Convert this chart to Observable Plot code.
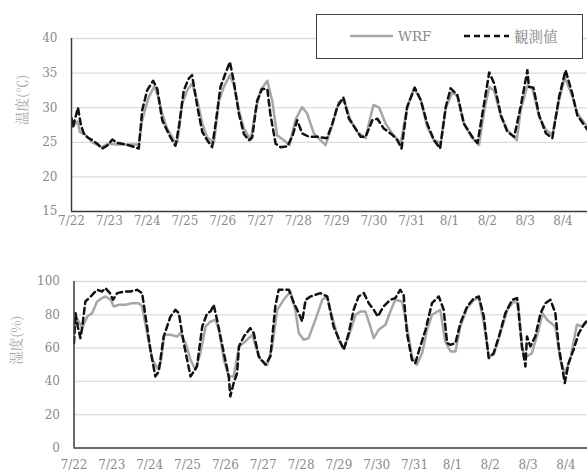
<!DOCTYPE html>
<html><head><meta charset="utf-8">
<script src="https://cdn.jsdelivr.net/npm/d3@7"></script>
<script src="https://cdn.jsdelivr.net/npm/@observablehq/plot@0.6"></script>
<style>
body{margin:0;background:#fff;}
#wrap{position:relative;width:587px;height:473px;overflow:hidden;background:#fff;}
#top{position:absolute;left:0;top:0;}
#bot{position:absolute;left:0;top:240px;}
#legend{position:absolute;left:316px;top:14px;width:265px;height:43px;border:1px solid #404040;background:#fff;}
#wrap svg text{font-family:'DejaVu Serif', serif !important;}
#wrap svg text.cjk, #wrap svg .cjk text{font-family:'Noto Serif CJK JP', serif !important;}
</style></head><body>
<div id="wrap"><div id="top"></div><div id="bot"></div><div id="legend"></div></div>
<script>
// date labels (one per day starting 7/22 00:00)
const dateLabels = ["7/22","7/23","7/24","7/25","7/26","7/27","7/28","7/29","7/30","7/31","8/1","8/2","8/3","8/4"];
const tempTicks = [15, 20, 25, 30, 35, 40];
const humTicks = [0, 20, 40, 60, 80, 100];
const seriesNames = ["WRF", "観測値"];

// [day offset, value]
const obsTemp = [[0.00,28.5],[0.04,27.2],[0.09,28.3],[0.17,30.0],[0.25,27.5],[0.33,26.2],[0.43,25.7],[0.55,25.3],[0.68,24.8],[0.81,24.1],[0.94,24.5],[1.08,25.4],[1.21,24.9],[1.34,24.8],[1.56,24.5],[1.78,24.1],[1.87,29.6],[2.00,32.5],[2.16,33.9],[2.27,32.7],[2.40,28.2],[2.53,26.7],[2.62,25.7],[2.75,24.5],[2.84,27.2],[2.97,32.5],[3.10,34.2],[3.19,34.7],[3.33,30.1],[3.46,26.5],[3.59,25.3],[3.72,24.3],[3.81,27.6],[3.94,33.0],[4.07,34.9],[4.19,36.6],[4.29,33.9],[4.43,29.1],[4.56,26.2],[4.69,25.3],[4.78,25.7],[4.91,31.0],[5.04,32.7],[5.18,32.7],[5.26,29.1],[5.40,24.8],[5.53,24.3],[5.71,24.4],[5.85,26.0],[5.97,28.2],[6.10,26.3],[6.28,25.8],[6.50,25.8],[6.76,25.6],[6.90,27.7],[7.03,30.1],[7.19,31.5],[7.34,28.4],[7.51,27.0],[7.65,25.8],[7.78,25.8],[7.96,28.2],[8.09,28.4],[8.26,27.0],[8.48,26.1],[8.62,25.3],[8.73,24.1],[8.88,30.1],[9.08,32.9],[9.24,31.1],[9.41,27.7],[9.59,25.3],[9.75,24.1],[9.90,30.1],[10.03,32.8],[10.21,31.8],[10.38,27.7],[10.60,25.8],[10.74,24.9],[10.90,30.1],[11.05,35.1],[11.18,33.5],[11.36,28.9],[11.53,26.5],[11.71,25.8],[11.88,30.1],[12.06,35.4],[12.10,33.0],[12.22,32.9],[12.37,28.9],[12.55,26.3],[12.72,25.6],[12.90,31.6],[13.07,35.4],[13.25,32.0],[13.38,28.9],[13.65,26.8]];

const wrfTemp = [[0.00,27.2],[0.07,27.5],[0.17,28.0],[0.22,26.5],[0.35,26.2],[0.55,25.0],[0.80,24.3],[0.97,24.8],[1.15,24.7],[1.40,24.7],[1.78,24.7],[1.87,28.2],[2.04,31.5],[2.19,33.1],[2.30,31.5],[2.40,29.1],[2.53,27.0],[2.71,25.3],[2.80,25.0],[2.93,30.6],[3.06,32.5],[3.19,33.5],[3.33,31.0],[3.46,27.7],[3.59,25.7],[3.77,25.0],[3.90,31.0],[4.03,33.0],[4.19,34.7],[4.29,33.4],[4.43,29.6],[4.56,27.0],[4.74,25.3],[4.87,29.6],[5.00,32.5],[5.18,33.9],[5.31,31.0],[5.44,26.0],[5.62,25.3],[5.77,24.6],[5.92,28.2],[6.10,30.1],[6.23,29.2],[6.41,26.3],[6.59,25.3],[6.72,24.6],[6.90,27.5],[7.07,30.8],[7.21,31.1],[7.38,28.2],[7.56,26.5],[7.78,25.6],[7.92,28.9],[7.99,30.4],[8.14,30.0],[8.31,27.7],[8.48,26.3],[8.71,24.9],[8.88,30.1],[9.06,32.8],[9.24,31.1],[9.41,27.2],[9.59,25.3],[9.77,24.9],[9.90,29.9],[10.08,32.3],[10.21,31.6],[10.38,27.7],[10.60,25.6],[10.78,24.6],[10.92,29.6],[11.05,33.0],[11.18,32.5],[11.36,28.7],[11.53,26.8],[11.78,25.3],[11.88,29.6],[12.06,33.2],[12.19,32.9],[12.37,28.7],[12.55,26.8],[12.72,26.1],[12.90,31.1],[13.05,34.4],[13.25,31.6],[13.38,29.2],[13.65,27.2]];

const obsHum = [[0.00,63],[0.04,81],[0.10,73],[0.17,66],[0.22,73],[0.30,88],[0.44,91],[0.61,95],[0.74,94],[0.83,96],[0.95,93],[1.03,89],[1.14,93],[1.32,94],[1.49,94],[1.67,95],[1.80,93],[1.89,79],[2.02,59],[2.15,43],[2.24,46],[2.37,67],[2.55,79],[2.68,83],[2.77,81],[2.90,63],[3.08,43],[3.25,49],[3.39,73],[3.52,81],[3.61,82],[3.69,86],[3.78,77],[3.96,57],[4.09,43],[4.13,31],[4.22,39],[4.31,45],[4.36,61],[4.49,67],[4.66,72],[4.75,69],[4.88,55],[5.06,50],[5.19,55],[5.32,85],[5.41,95],[5.68,95],[5.81,87],[5.94,81],[6.03,76],[6.12,89],[6.25,91],[6.51,93],[6.69,91],[6.86,73],[6.99,66],[7.13,59],[7.26,69],[7.39,83],[7.52,91],[7.66,93],[7.79,87],[7.92,83],[8.03,79],[8.18,85],[8.36,89],[8.49,90],[8.62,95],[8.71,92],[8.80,69],[8.93,53],[9.02,51],[9.15,61],[9.29,71],[9.46,87],[9.64,91],[9.77,83],[9.86,63],[9.95,62],[10.08,63],[10.21,75],[10.39,85],[10.57,90],[10.70,91],[10.83,79],[10.96,54],[11.09,57],[11.23,67],[11.40,81],[11.58,89],[11.71,90],[11.84,61],[11.93,49],[11.97,67],[12.06,61],[12.19,67],[12.33,81],[12.46,87],[12.59,89],[12.72,81],[12.81,61],[12.97,39],[13.07,51],[13.20,59],[13.34,69],[13.47,74],[13.57,77]];

const wrfHum = [[0.00,73],[0.10,77],[0.22,72],[0.35,79],[0.48,81],[0.61,88],[0.74,90],[0.83,91],[0.97,89],[1.05,85],[1.19,86],[1.36,86],[1.54,87],[1.71,87],[1.80,85],[1.93,69],[2.07,53],[2.20,48],[2.29,51],[2.39,68],[2.55,68],[2.73,67],[2.81,69],[2.95,63],[3.08,53],[3.21,47],[3.34,57],[3.48,73],[3.61,76],[3.74,77],[3.83,71],[3.96,53],[4.09,43],[4.22,43],[4.36,61],[4.53,64],[4.71,68],[4.80,61],[4.93,53],[5.11,50],[5.24,61],[5.37,83],[5.54,89],[5.72,94],[5.85,83],[5.94,69],[6.07,65],[6.20,66],[6.38,77],[6.56,89],[6.69,91],[6.81,80],[6.99,65],[7.13,60],[7.26,67],[7.44,80],[7.57,82],[7.70,82],[7.83,73],[7.92,66],[8.05,71],[8.23,74],[8.36,82],[8.49,89],[8.67,88],[8.80,73],[8.93,55],[9.06,50],[9.20,57],[9.33,71],[9.46,80],[9.68,83],[9.81,64],[9.95,58],[10.08,58],[10.21,73],[10.39,84],[10.57,89],[10.70,90],[10.83,75],[10.96,55],[11.09,56],[11.27,69],[11.45,83],[11.62,88],[11.74,87],[11.84,59],[11.97,55],[12.10,57],[12.28,71],[12.38,81],[12.50,77],[12.72,73],[12.85,53],[12.97,45],[13.11,53],[13.29,74],[13.42,73],[13.57,76]];

const GRAY_TXT = "#8a8a8a";
const WRF_COLOR = "#a6a6a6";
const OBS_COLOR = "#111111";
const AXIS_COLOR = "#3a3a3a";

function chart({data1, data2, height, marginLeft, marginTop, marginBottom, xMax, yDomain, yTicks, gridTicks, xPad, title, titleDx}) {
  const svg = Plot.plot({
    width: 587, height, marginLeft, marginRight: 0, marginTop, marginBottom,
    style: {fontSize: "12px", color: GRAY_TXT, background: "transparent", overflow: "visible"},
    x: {domain: [0, xMax]},
    y: {domain: yDomain},
    marks: [
      Plot.gridY(gridTicks, {stroke: "#dcdcdc", strokeOpacity: 1, strokeWidth: 1.3}),
      Plot.axisY(yTicks, {tickSize: 0, tickPadding: 14, fill: GRAY_TXT, fontSize: 12, label: null}),
      Plot.axisX(d3.range(dateLabels.length), {tickSize: 0, tickPadding: xPad, tickFormat: i => dateLabels[i], fill: GRAY_TXT, fontSize: 12, label: null}),
      Plot.line(data1, {x: d => d[0], y: d => d[1], stroke: WRF_COLOR, strokeWidth: 2.5, clip: true}),
      Plot.line(data2, {x: d => d[0], y: d => d[1], stroke: OBS_COLOR, strokeWidth: 2.5, strokeDasharray: "6,4", clip: true}),
      Plot.ruleX([0], {stroke: AXIS_COLOR, strokeWidth: 1.5}),
      Plot.ruleY([yDomain[0]], {stroke: AXIS_COLOR, strokeWidth: 1.5}),
      Plot.text([title], {text: d => d, frameAnchor: "left", dx: titleDx, rotate: -90, fontSize: 13.5, fill: "#a3a3a3"})
    ]
  });
  d3.select(svg).selectAll("text").filter(function() { return this.textContent === title; }).classed("cjk", true);
  return svg;
}

document.getElementById("top").appendChild(chart({
  data1: wrfTemp, data2: obsTemp, height: 240, marginLeft: 71, marginTop: 38, marginBottom: 29,
  xMax: 13.65, yDomain: [15, 40], yTicks: tempTicks, gridTicks: tempTicks.slice(1), xPad: 5,
  title: "温度(℃)", titleDx: -49
}));

document.getElementById("bot").appendChild(chart({
  data1: wrfHum, data2: obsHum, height: 233, marginLeft: 73.5, marginTop: 41, marginBottom: 25.5,
  xMax: 13.57, yDomain: [0, 100], yTicks: humTicks, gridTicks: humTicks.slice(1), xPad: 12,
  title: "湿度(%)", titleDx: -57
}));

// legend
const ns = "http://www.w3.org/2000/svg";
const lg = document.createElementNS(ns, "svg");
lg.setAttribute("width", 265); lg.setAttribute("height", 43);
lg.innerHTML =
  `<line x1="33" x2="76" y1="21" y2="21" stroke="${WRF_COLOR}" stroke-width="2.5"/>` +
  `<text x="81" y="26" font-size="13.5" fill="${GRAY_TXT}">${seriesNames[0]}</text>` +
  `<line x1="147" x2="192" y1="21" y2="21" stroke="${OBS_COLOR}" stroke-width="2.5" stroke-dasharray="6,4"/>` +
  `<text class="cjk" x="197" y="26.5" font-size="14.5" fill="${GRAY_TXT}">${seriesNames[1]}</text>`;
document.getElementById("legend").appendChild(lg);
</script>
</body></html>
